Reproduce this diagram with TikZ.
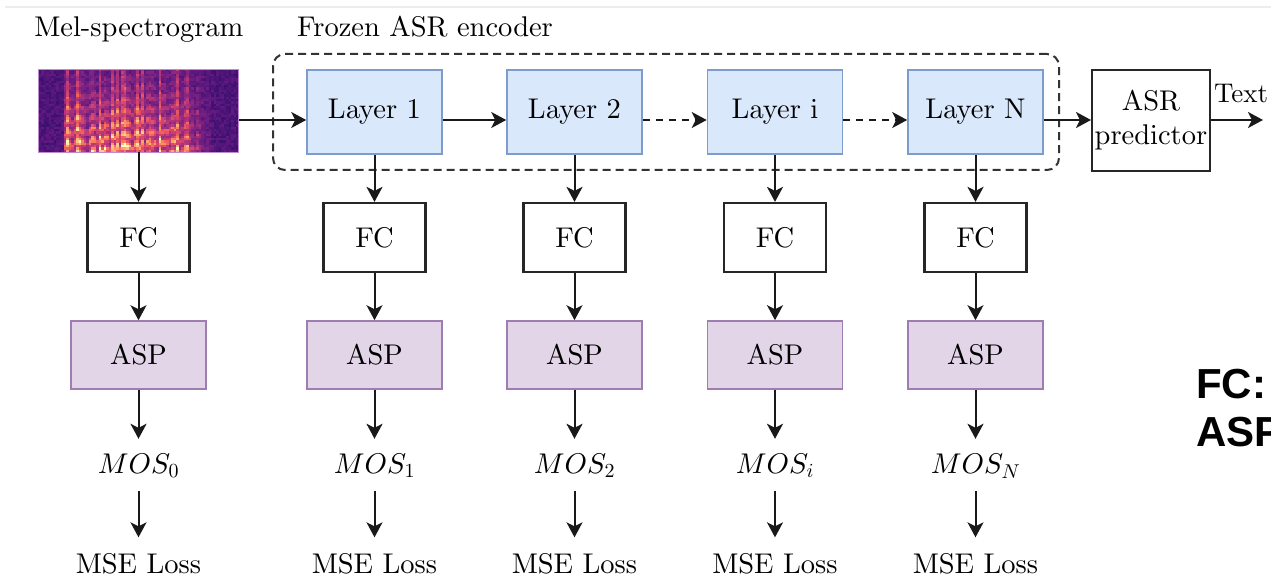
\documentclass[tikz,border=0pt]{standalone}
\usepackage{fontspec}
\newfontfamily\legendfont{Liberation Sans}
\usetikzlibrary{arrows.meta,calc}
% let Computer Modern text and math italic scale to any size
\DeclareFontShape{OML}{cmm}{m}{it}{<->cmmi10}{}
\DeclareFontShape{OT1}{cmr}{m}{n}{<->cmr10}{}
\newcommand\labelfont{\fontencoding{OT1}\fontfamily{cmr}\fontseries{m}\fontshape{n}%
  \fontsize{28.5}{34}\selectfont}
\newcommand\smalllabelfont{\fontencoding{OT1}\fontfamily{cmr}\fontseries{m}\fontshape{n}%
  \fontsize{27}{32}\selectfont}

% box colours
\definecolor{layerfill}{HTML}{DAE8FC}
\definecolor{layerline}{HTML}{7C9CCB}
\definecolor{aspfill}{HTML}{E1D5E7}
\definecolor{aspline}{HTML}{A07DB0}
\definecolor{specline}{HTML}{C08AD0}

% magma colour ramp, 11 stops
\definecolor{mg0}{HTML}{000004}
\definecolor{mg1}{HTML}{140E36}
\definecolor{mg2}{HTML}{3B0F70}
\definecolor{mg3}{HTML}{641A80}
\definecolor{mg4}{HTML}{8C2981}
\definecolor{mg5}{HTML}{B73779}
\definecolor{mg6}{HTML}{DE4968}
\definecolor{mg7}{HTML}{F7705C}
\definecolor{mg8}{HTML}{FE9F6D}
\definecolor{mg9}{HTML}{FECF92}
\definecolor{mg10}{HTML}{FCFDBF}

% sets colour "cellc" from an intensity in [0,1]
\newcommand\setmagma[1]{%
  \pgfmathsetmacro\mgI{max(0,min(0.999,#1))}%
  \pgfmathtruncatemacro\mgseg{int(\mgI*10)}%
  \pgfmathtruncatemacro\mixp{round((\mgI*10-\mgseg)*100)}%
  \ifcase\mgseg
    \colorlet{cellc}{mg1!\mixp!mg0}\or
    \colorlet{cellc}{mg2!\mixp!mg1}\or
    \colorlet{cellc}{mg3!\mixp!mg2}\or
    \colorlet{cellc}{mg4!\mixp!mg3}\or
    \colorlet{cellc}{mg5!\mixp!mg4}\or
    \colorlet{cellc}{mg6!\mixp!mg5}\or
    \colorlet{cellc}{mg7!\mixp!mg6}\or
    \colorlet{cellc}{mg8!\mixp!mg7}\or
    \colorlet{cellc}{mg9!\mixp!mg8}\or
    \colorlet{cellc}{mg10!\mixp!mg9}\else
    \colorlet{cellc}{mg10}\fi}

\tikzset{
  every node/.style={font=\labelfont},
  layer/.style={draw=layerline, fill=layerfill, line width=1.6pt,
    minimum width=135pt, minimum height=84pt, inner sep=0pt},
  fcbox/.style={draw=black!85, fill=white, line width=2.2pt,
    minimum width=102pt, minimum height=69pt, inner sep=0pt},
  aspbox/.style={draw=aspline, fill=aspfill, line width=1.6pt,
    minimum width=135pt, minimum height=68pt, inner sep=0pt},
  plainbox/.style={draw=black!85, fill=white, line width=2pt,
    minimum width=118pt, minimum height=101pt, inner sep=0pt, align=center},
  mosnode/.style={inner sep=0pt, minimum height=52pt, text height=20pt, text depth=4pt},
  lossnode/.style={inner sep=0pt},
  encbox/.style={draw=black!80, line width=2pt, dash pattern=on 8pt off 5pt,
    rounded corners=12pt, minimum width=786pt, minimum height=116pt, inner sep=0pt},
  arr/.style={line width=2pt, draw=black!90,
    -{Stealth[length=15pt, width=16pt, inset=4pt]}},
  darr/.style={arr, dash pattern=on 7pt off 6pt},
  legend/.style={anchor=base west, inner sep=0pt,
    font=\legendfont\bfseries\fontsize{42}{48}\selectfont},
}

\begin{document}
\begin{tikzpicture}[x=1pt, y=-1pt]
\useasboundingbox (0,0) rectangle (1271,577);

% faint rule along the top
\draw[black!7, line width=2.5pt] (5,7) -- (1271,7);

% ---- mel-spectrogram picture (synthetic) ----
\pgfmathsetseed{23}
\foreach \i in {0,...,79}{
  \pgfmathsetmacro\cu{\i/79}
  \pgfmathsetmacro\cr{rnd}
  \pgfmathsetmacro\env{(\cu>0.12)*(\cu<0.7)+(\cu>=0.7)*(\cu<0.88)*(0.88-\cu)*5.5}
  \pgfmathsetmacro\g{(0.6+0.4*abs(sin(\cu*3000+\cr*40)))*(0.7+0.4*\cr)}
  \pgfmathsetmacro\tall{(\cr>0.8)*0.2}
  \pgfmathsetmacro\ph{\cu*900+\cr*160}
  \foreach \j in {0,...,35}{
    \pgfmathsetmacro\w{\j/35}
    \pgfmathsetmacro\val{0.2+0.1*rnd
      + \env*\g*(0.12+0.62*\w^1.3)*(0.72+0.28*cos(\w*360*7+\ph))*(0.8+0.35*rnd)
      + \env*\tall*(0.5+0.5*rnd)*(1-0.5*\w)}
    \setmagma{\val}
    \fill[cellc] ({38.5+\i*2.5},{69+\j*2.3056}) rectangle ++(2.8,2.6);
  }
}
\node[draw=specline, line width=0.8pt, minimum width=200pt, minimum height=83pt,
  inner sep=0pt] (spec) at (138.5,110.5) {};

% ---- titles ----
\node[anchor=base, inner sep=0pt] (spectitle) at (139,37) {Mel-spectrogram};
\node[anchor=base west, inner sep=0pt] (enctitle) at (297,37) {Frozen ASR encoder};

% ---- frozen encoder frame and layers ----
\node[encbox] (enc) at (666,112) {};
\node[layer] (L1) at (374.5,112) {Layer 1};
\node[layer] (L2) at (574.5,112) {Layer 2};
\node[layer] (Li) at (775,112) {Layer i};
\node[layer] (LN) at (975.5,112) {Layer N};
\node[plainbox] (asr) at (1151,120.5) {ASR\\[0pt]predictor};
\coordinate (txtend) at (1263,120);
\node[anchor=base west, inner sep=0pt, font=\smalllabelfont]
  (txt) at (1214,103) {Text};

% ---- per-layer heads ----
\foreach \n/\x/\s in {0/138.5/0, 1/374.5/1, 2/574.5/2, 3/775/i, 4/975.5/N}{
  \node[fcbox] (fc\n) at (\x,237.5) {FC};
  \node[aspbox] (asp\n) at (\x,355) {ASP};
  \node[mosnode] (mos\n) at (\x,465) {$MOS_{\s}$};
  \node[lossnode, anchor=base] (mse\n) at (\x,573) {MSE Loss};
}

% ---- legend ----
\node[legend] (fcdef) at (1196,398) {FC:};
\node[legend] (aspdef) at (1196,446) {ASP};

% ---- connectors ----
\draw[arr] ([yshift=-9.5pt]spec.east) -- ([yshift=-8pt]L1.west);
\draw[arr] ([yshift=-8pt]L1.east) -- ([yshift=-8pt]L2.west);
\draw[darr] ([yshift=-8pt]L2.east) -- ([yshift=-8pt]Li.west);
\draw[darr] ([yshift=-8pt]Li.east) -- ([yshift=-8pt]LN.west);
\draw[arr] ([yshift=-8pt]LN.east) -- ([yshift=-8pt]LN.east -| asr.west);
\draw[arr] (asr.east |- txtend) -- (txtend);

\draw[arr] (spec.south) -- (fc0.north);
\draw[arr] (L1.south) -- (fc1.north);
\draw[arr] (L2.south) -- (fc2.north);
\draw[arr] (Li.south) -- (fc3.north);
\draw[arr] (LN.south) -- (fc4.north);
\foreach \n in {0,...,4}{
  \draw[arr] (fc\n.south) -- (asp\n.north);
  \draw[arr] (asp\n.south) -- (mos\n.north);
  \draw[arr] (mos\n.south) -- ([yshift=16pt]mse\n.north);
}
\end{tikzpicture}
\end{document}
